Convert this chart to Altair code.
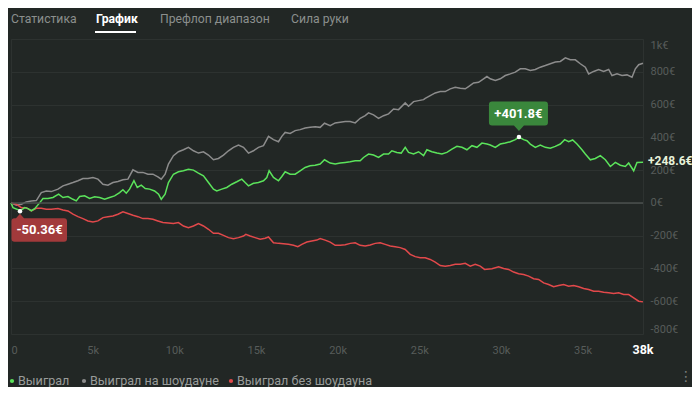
import altair as alt
import pandas as pd

# ---------------- data ----------------
series_names = ["Выиграл", "Выиграл на шоудауне", "Выиграл без шоудауна"]
series_colors = ["#5be35b", "#8c8c8c", "#e2494b"]

green_hands = [
    0, 122, 530, 551, 836, 1040, 1244, 1448, 1754, 1958,
    2264, 2570, 2917, 3182, 3488, 3794, 3998, 4202, 4508, 4814,
    5120, 5426, 5732, 6038, 6344, 6650, 6854, 7058, 7262, 7528,
    7732, 7976, 8221, 8486, 8792, 9037, 9200, 9436, 9640, 9947,
    10253, 10559, 10865, 11172, 11478, 11784, 12091, 12397, 12601, 12907,
    13214, 13520, 13826, 14133, 14337, 14541, 14847, 15154, 15460, 15664,
    15807, 16073, 16379, 16583, 16787, 17094, 17400, 17706, 18012, 18319,
    18625, 18931, 19197, 19545, 19852, 20158, 20464, 20771, 21077, 21383,
    21587, 21894, 22200, 22506, 22813, 23119, 23323, 23629, 23895, 24140,
    24344, 24650, 24957, 25263, 25467, 25773, 26080, 26386, 26692, 26999,
    27305, 27611, 27918, 28224, 28530, 28836, 29143, 29348, 29655, 29961,
    30267, 30574, 30880, 31104, 31390, 31594, 31799, 32105, 32411, 32718,
    33024, 33330, 33637, 33902, 34147, 34392, 34658, 34964, 35168, 35474,
    35781, 36087, 36393, 36700, 37006, 37312, 37619, 37823, 38129, 38333, 38700,
]
green_vals = [
    0, -29, -45, -50.36, -29, -35, -48, -35, 0, 27,
    27, 33, 53, 33, 39, 22, 12, 39, 43, 27,
    37, 33, 22, 33, 43, 63, 80, 59, 84, 135,
    94, 108, 88, 84, 73, 53, 22, 53, 124, 175,
    190, 196, 205, 200, 182, 165, 124, 84, 73, 84,
    94, 114, 129, 145, 124, 104, 120, 124, 135, 155,
    196, 155, 135, 161, 190, 175, 175, 196, 216, 226,
    230, 237, 263, 243, 237, 243, 247, 251, 257, 257,
    277, 298, 292, 277, 298, 298, 318, 308, 304, 339,
    308, 298, 312, 288, 324, 312, 304, 298, 308, 328,
    345, 339, 324, 349, 339, 365, 359, 353, 339, 359,
    365, 373, 386, 401.8, 386, 379, 359, 339, 353, 339,
    333, 345, 359, 386, 373, 384, 359, 324, 298, 263,
    271, 288, 263, 222, 247, 230, 222, 243, 196, 247, 248.6,
]

gray_hands = [
    0, 326, 632, 938, 1244, 1550, 1856, 2162, 2468, 2876,
    3182, 3488, 3794, 4100, 4406, 4712, 5018, 5324, 5630, 5936,
    6242, 6548, 6854, 7160, 7466, 7772, 8078, 8384, 8690, 8996,
    9200, 9436, 9640, 9947, 10253, 10559, 10865, 11172, 11478, 11784,
    12091, 12397, 12703, 13010, 13316, 13622, 13929, 14235, 14541, 14847,
    15154, 15460, 15766, 16073, 16379, 16583, 16787, 17094, 17400, 17706,
    18012, 18319, 18625, 18931, 19197, 19545, 19852, 20158, 20464, 20771,
    21077, 21383, 21689, 21894, 22200, 22506, 22813, 23119, 23425, 23731,
    24140, 24344, 24650, 24957, 25263, 25365, 25671, 25978, 26284, 26590,
    26897, 27203, 27509, 27815, 28019, 28326, 28632, 28938, 29143, 29348,
    29655, 29961, 30267, 30574, 30880, 31186, 31492, 31799, 32105, 32411,
    32718, 33024, 33330, 33637, 33943, 34249, 34555, 34862, 35168, 35372,
    35679, 35985, 36291, 36598, 36802, 37108, 37414, 37721, 38027, 38231, 38435, 38700,
]
gray_vals = [
    0, -14, -8, 6, 12, 14, 63, 73, 69, 84,
    104, 114, 124, 135, 149, 149, 155, 145, 114, 108,
    124, 131, 141, 145, 202, 186, 186, 175, 175, 159,
    145, 175, 237, 288, 312, 324, 339, 318, 304, 312,
    292, 263, 271, 292, 318, 339, 353, 339, 304, 318,
    339, 349, 406, 386, 373, 406, 430, 424, 441, 447,
    457, 461, 465, 461, 486, 471, 488, 492, 496, 496,
    488, 516, 532, 549, 537, 516, 532, 543, 573, 569,
    610, 590, 618, 624, 630, 638, 655, 671, 679, 679,
    696, 706, 700, 696, 710, 732, 736, 757, 771, 757,
    747, 757, 777, 787, 798, 818, 818, 808, 814, 828,
    838, 849, 859, 863, 885, 873, 873, 849, 828, 787,
    802, 814, 802, 814, 777, 787, 777, 781, 767, 818, 843, 852,
]

red_hands = [
    0, 326, 632, 938, 1244, 1550, 1856, 2162, 2468, 2876,
    3182, 3488, 3794, 4100, 4406, 4712, 5018, 5324, 5630, 5936,
    6242, 6548, 6854, 7160, 7466, 7772, 8078, 8384, 8690, 8996,
    9302, 9640, 9947, 10253, 10559, 10865, 11172, 11478, 11784, 12091,
    12397, 12703, 13010, 13316, 13622, 13929, 14235, 14378, 14643, 14949,
    15256, 15562, 15766, 16073, 16379, 16685, 16991, 17298, 17563, 17808,
    18114, 18421, 18727, 18931, 19237, 19545, 19852, 20158, 20464, 20771,
    21077, 21383, 21689, 21996, 22302, 22608, 22915, 23221, 23527, 23833,
    24140, 24446, 24752, 25059, 25365, 25671, 25978, 26284, 26590, 26897,
    27203, 27509, 27815, 28122, 28428, 28734, 28999, 29450, 29859, 30165,
    30471, 30778, 31084, 31390, 31697, 32003, 32309, 32616, 32922, 33228,
    33534, 33841, 34147, 34453, 34760, 35066, 35372, 35679, 35985, 36291,
    36598, 36904, 37210, 37517, 37823, 38129, 38435, 38700,
]
red_vals = [
    0, -8, -29, -29, -49, -33, -33, -39, -39, -35,
    -43, -49, -69, -84, -96, -110, -116, -110, -90, -84,
    -80, -69, -55, -65, -75, -84, -96, -96, -100, -110,
    -120, -122, -126, -120, -141, -151, -141, -126, -141, -161,
    -186, -186, -198, -212, -218, -212, -202, -192, -202, -212,
    -222, -216, -208, -243, -247, -249, -253, -259, -267, -253,
    -239, -233, -227, -218, -227, -239, -259, -259, -255, -247,
    -243, -259, -263, -257, -247, -243, -253, -263, -267, -273,
    -284, -314, -328, -335, -335, -345, -361, -382, -386, -382,
    -375, -375, -369, -386, -375, -386, -406, -402, -390, -400,
    -406, -422, -432, -437, -447, -463, -467, -488, -498, -512,
    -504, -498, -508, -504, -512, -522, -528, -539, -539, -545,
    -549, -553, -549, -559, -559, -579, -600, -604,
]

x_ticks = [0, 5000, 10000, 15000, 20000, 25000, 30000, 35000]
y_ticks = [-800, -600, -400, -200, 0, 200, 400, 600, 800, 1000]
total_hands = [38700]
total_label = ["38k"]

peak_hand, peak_val = [31104], [401.8]
min_hand, min_val = [551], [-50.36]
end_hand, end_val = [38700], [248.6]

tabs = ["Статистика", "График", "Префлоп диапазон", "Сила руки"]

# ---------------- build table ----------------
rows = []
for name, hs, vs in [
    (series_names[1], gray_hands, gray_vals),
    (series_names[2], red_hands, red_vals),
    (series_names[0], green_hands, green_vals),
]:
    assert len(hs) == len(vs), name
    rows += [{"series": name, "hands": h, "value": v} for h, v in zip(hs, vs)]
df = pd.DataFrame(rows)

# ---------------- styling ----------------
W, H = 632, 295
BG = "#222725"
GRID = "#2d3230"
ZERO = "#4b504e"
AXIS_LBL = "#575c5a"
TAB_CLR = "#8b8f8d"
LEG_CLR = "#999c9a"
FONT = "Roboto"

xs = alt.Scale(domain=[0, total_hands[0]], nice=False, zero=False)
ys = alt.Scale(domain=[-800, 1000], nice=False, zero=False)

x_axis = alt.Axis(values=x_ticks,
                  labelExpr="datum.value == 0 ? '0' : (datum.value / 1000) + 'k'",
                  grid=False, domain=False, ticks=False, labelColor=AXIS_LBL,
                  labelFontSize=11, labelPadding=10, title=None)
y_axis = alt.Axis(orient="right", values=y_ticks,
                  labelExpr="datum.value == 1000 ? '1k€' : datum.value + '€'",
                  grid=True, gridColor=GRID, gridWidth=1, domain=False, ticks=False,
                  labelColor=AXIS_LBL, labelFontSize=11, labelPadding=7,
                  labelFlush=True, title=None)

X = alt.X("hands:Q", scale=xs, axis=x_axis)
Y = alt.Y("value:Q", scale=ys, axis=y_axis)

lines = alt.Chart(df).mark_line(strokeWidth=1.5).encode(
    x=X, y=Y,
    color=alt.Color("series:N", scale=alt.Scale(domain=series_names, range=series_colors),
                    legend=None),
    detail="series:N",
)

zero = alt.Chart(pd.DataFrame({"value": [0]})).mark_rule(
    color=ZERO, strokeWidth=1.5).encode(y=Y)

peak_df = pd.DataFrame({"hands": peak_hand, "value": peak_val,
                        "label": [f"+{v}€" for v in peak_val]})
min_df = pd.DataFrame({"hands": min_hand, "value": min_val,
                       "label": [f"{v}€" for v in min_val]})
end_df = pd.DataFrame({"hands": end_hand, "value": end_val,
                       "label": [f"+{v}€" for v in end_val]})

GREEN_BOX = ("M-27,-35.5 L26,-35.5 Q29,-35.5 29,-32.5 L29,-14.5 Q29,-11.5 26,-11.5 "
             "L5,-11.5 L0,-6 L-5,-11.5 L-27,-11.5 Q-30,-11.5 -30,-14.5 L-30,-32.5 "
             "Q-30,-35.5 -27,-35.5 Z")
RED_BOX = ("M-5.5,7 L-4,7 L0,2.5 L4,7 L44,7 Q47,7 47,10 L47,27.5 Q47,30.5 44,30.5 "
           "L-5.5,30.5 Q-8.5,30.5 -8.5,27.5 L-8.5,10 Q-8.5,7 -5.5,7 Z")

green_box = alt.Chart(peak_df).mark_point(
    shape=GREEN_BOX, size=4, filled=True, color="#3a873c", opacity=1, strokeWidth=0
).encode(x=X, y=Y)
green_txt = alt.Chart(peak_df).mark_text(
    dx=-0.5, dy=-23.5, color="white", fontWeight="bold", fontSize=13, font=FONT
).encode(x=X, y=Y, text="label:N")

red_box = alt.Chart(min_df).mark_point(
    shape=RED_BOX, size=4, filled=True, color="#a23a3b", opacity=1, strokeWidth=0
).encode(x=X, y=Y)
red_txt = alt.Chart(min_df).mark_text(
    dx=19.5, dy=18.8, color="white", fontWeight="bold", fontSize=13, font=FONT
).encode(x=X, y=Y, text="label:N")

dots = alt.Chart(pd.concat([peak_df, min_df])).mark_point(
    filled=True, color="white", size=20, opacity=1, strokeWidth=0
).encode(x=X, y=Y)

end_txt = alt.Chart(end_df).mark_text(
    align="left", dx=5, dy=-1, color="#e8f2da", fontWeight="bold", fontSize=12, font=FONT
).encode(x=X, y=Y, text="label:N")

total_txt = alt.Chart(pd.DataFrame({"hands": total_hands, "label": total_label})).mark_text(
    color="white", fontWeight="bold", fontSize=12.5, font=FONT, baseline="middle"
).encode(x=X, y=alt.value(H + 16), text="label:N")

# ---------------- page chrome: tabs & legend ----------------
layers = [lines, zero, red_box, green_box, dots, green_txt, red_txt, end_txt, total_txt]

tab_x = [0, 85, 149, 280]
for i, (t, tx) in enumerate(zip(tabs, tab_x)):
    layers.append(
        alt.Chart(pd.DataFrame({"t": [t]})).mark_text(
            align="left", baseline="middle", fontSize=12.2, font=FONT,
            color="white" if i == 1 else TAB_CLR,
            fontWeight="bold" if i == 1 else "normal",
        ).encode(x=alt.value(tx), y=alt.value(-20), text="t:N")
    )
layers.append(
    alt.Chart(pd.DataFrame({"a": [0]})).mark_rule(color="white", strokeWidth=2).encode(
        x=alt.value(84), x2=alt.value(125), y=alt.value(-7))
)

leg_dot_x = [1, 73, 220]
for name, col, dx in zip(series_names, series_colors, leg_dot_x):
    layers.append(
        alt.Chart(pd.DataFrame({"t": [name]})).mark_point(
            filled=True, color=col, size=18, opacity=1, strokeWidth=0
        ).encode(x=alt.value(dx), y=alt.value(342))
    )
    layers.append(
        alt.Chart(pd.DataFrame({"t": [name]})).mark_text(
            align="left", baseline="middle", fontSize=12.6, font=FONT, color=LEG_CLR
        ).encode(x=alt.value(dx + 6), y=alt.value(342), text="t:N")
    )
layers.append(
    alt.Chart(pd.DataFrame({"t": ["⋮"]})).mark_text(
        align="center", baseline="middle", fontSize=14, font="DejaVu Sans", color="#7a7e7c"
    ).encode(x=alt.value(675), y=alt.value(338), text="t:N")
)

chart = alt.layer(*layers).properties(
    width=W, height=H,
    padding={"left": 3, "top": 31, "right": 49, "bottom": 53},
    autosize=alt.AutoSizeParams(type="none"),
    background=BG,
).configure(font=FONT).configure_view(stroke=GRID, strokeWidth=1)

chart.save("out.html", embed_options={"renderer": "svg", "actions": False})
